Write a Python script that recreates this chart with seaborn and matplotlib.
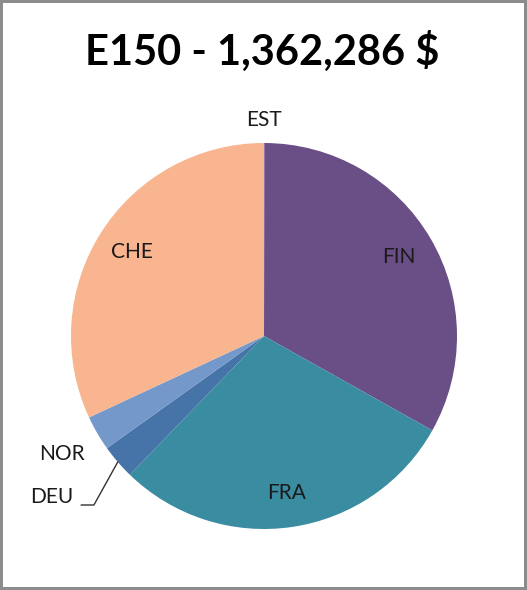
from matplotlib import pyplot as plt
import seaborn as sns
import numpy as np

# slices in drawing order, clockwise from 12 o'clock
countries = ["EST", "FIN", "FRA", "DEU", "NOR", "CHE"]
amounts = [486, 450900, 396400, 39500, 40000, 435000]
colors = ["#8064A2", "#6A4F87", "#3A8CA0", "#4673A8", "#7498C9", "#F8B58F"]
title = "E150 - 1,362,286 $"

# distance of each label from centre (in radii)
label_dist = [1.12, 0.81, 0.82, None, 1.21, 0.81]

sns.set_theme(style="white")
plt.rcParams["font.family"] = ["Lato", "DejaVu Sans"]

fig = plt.figure(figsize=(5.27, 5.90), dpi=100)
fig.patch.set_facecolor("white")
fig.patch.set_edgecolor("#8c8c8c")
fig.patch.set_linewidth(3)

W, H = 527, 590
cx, cy, r = 264, 336, 193
ax = fig.add_axes([(cx - r) / W, (H - cy - r) / H, 2 * r / W, 2 * r / H])

wedges, _ = ax.pie(amounts, colors=colors, startangle=90, counterclock=False,
                   radius=1.0, wedgeprops=dict(linewidth=0))
ax.set_xlim(-1, 1)
ax.set_ylim(-1, 1)
ax.set_aspect("equal")
ax.axis("off")

for w, name, dist in zip(wedges, countries, label_dist):
    mid = np.deg2rad((w.theta1 + w.theta2) / 2)
    if dist is None:
        # leader line label
        ax.annotate(name, xy=(np.cos(mid), np.sin(mid)),
                    xytext=((52 - cx) / r, (cy - 497) / r),
                    ha="center", va="center", fontsize=15, color="#1a1a1a",
                    annotation_clip=False,
                    arrowprops=dict(arrowstyle="-", color="#333333", lw=1,
                                    shrinkA=3, shrinkB=0, relpos=(1.0, 0.1),
                                    connectionstyle="angle,angleA=0,angleB=61"))
        continue
    ax.text(dist * np.cos(mid), dist * np.sin(mid), name, ha="center",
            va="center", fontsize=15, color="#1a1a1a")

fig.text(262 / W, 1 - 51 / H, title, ha="center", va="center",
         fontsize=30, fontweight="bold", color="black")

fig.savefig("out.png", dpi=100, facecolor=fig.get_facecolor(),
            edgecolor=fig.get_edgecolor())
